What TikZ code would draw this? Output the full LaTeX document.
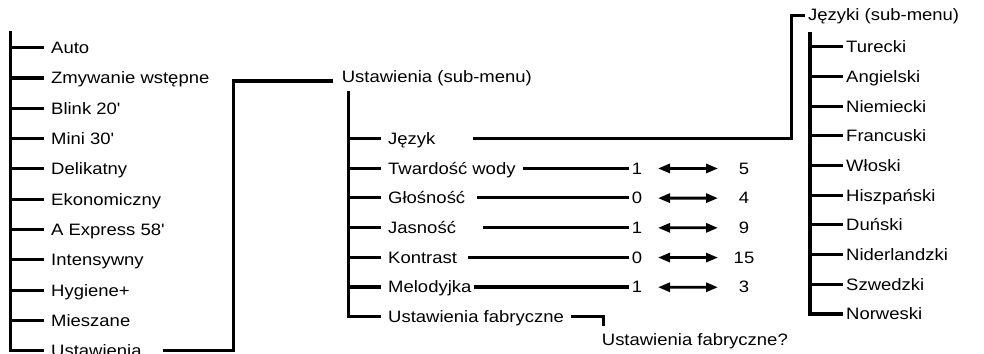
\documentclass[tikz,border=0pt]{standalone}
\usepackage{fontspec}
\setmainfont{Liberation Sans}[FakeStretch=1.12]
\usetikzlibrary{arrows.meta, positioning, calc}
\tikzset{
	entry/.style     ={anchor=base west, inner sep=0pt},
	num/.style       ={anchor=base, inner sep=0pt},
	branch/.style    ={line width=3.1pt},
	rangearrow/.style={line width=2.8pt, {Triangle[length=12pt,width=9pt]}-{Triangle[length=12pt,width=9pt]}, shorten <=21pt, shorten >=26pt},
}
\begin{document}
\begin{tikzpicture}[x=1pt, y=-1pt, font=\fontsize{16.5}{19}\selectfont]
	\useasboundingbox (0,0) rectangle (984,353);
	% programmes
	\coordinate (pTop) at (10.5,31);
	\foreach \txt [count=\i] in {Auto, Zmywanie wstępne, Blink 20\textquotesingle, Mini 30\textquotesingle, Delikatny, Ekonomiczny, A Express 58\textquotesingle, Intensywny, Hygiene+, Mieszane, Ustawienia}{
		\coordinate (p\i) at (10.5, {47.7+(\i-1)*30.3});
		\node[entry] (prog\i) at (51, {53.6+(\i-1)*30.3}) {\txt};
		\draw[branch, shorten >=7pt] (p\i) -- (p\i -| prog\i.west);
	}
	\draw[branch, shorten >=7pt] (pTop) -- (p11) -- (p11 -| prog11.west);
	% settings sub-menu
	\node[entry] (sub) at (341.7, 82.5) {Ustawienia (sub-menu)};
	\coordinate (subknee) at (233.5, 81);
	\draw[branch, shorten >=9pt] ($(prog11.east |- p11)+(21,0)$) -| (subknee) -- (subknee -| sub.west);
	\coordinate (sTop) at (348.3, 90.7);
	\coordinate (s1) at (348.3, 138.5);
	\node[entry] (set1) at (388, 144.4) {Język};
	\draw[branch, shorten >=7pt] (s1) -- (s1 -| set1.west);
	\foreach \txt/\gap/\lo/\hi [count=\i from 2] in {Twardość wody/7pt/1/5, Głośność/12pt/0/4, Jasność/27pt/1/9, Kontrast/11pt/0/15, Melodyjka/2pt/1/3}{
		\coordinate (s\i) at (348.3, {138.5+(\i-1)*29.7});
		\node[entry] (set\i) at (388, {144.4+(\i-1)*29.7}) {\txt};
		\node[num] (lo\i) at (637, {144.4+(\i-1)*29.7}) {\lo};
		\node[num] (hi\i) at (744, {144.4+(\i-1)*29.7}) {\hi};
		\draw[branch, shorten >=7pt] (s\i) -- (s\i -| set\i.west);
		\draw[branch, shorten <=\gap, shorten >=2.5pt] (s\i -| set\i.east) -- (s\i -| lo\i.west);
		\draw[rangearrow] (lo\i.center) -- (hi\i.center);
	}
	\coordinate (s7) at (348.3, {138.5+6*29.7});
	\node[entry] (set7) at (388, {144.4+6*29.7}) {Ustawienia fabryczne};
	\draw[branch, shorten >=7pt] (sTop) -- (s7) -- (s7 -| set7.west);
	\node[entry] (reset) at (601.7, 345) {Ustawienia fabryczne?};
	\draw[branch, shorten >=6.6pt] ($(set7.east |- s7)+(7,0)$) -| ([xshift=1.5pt]reset.north west);
	% languages sub-menu
	\node[entry] (lang) at (808, 21) {Języki (sub-menu)};
	\coordinate (lknee) at (791.7, 15.7);
	\draw[branch, shorten >=3pt] ($(set1.east |- s1)+(37,0)$) -| (lknee) -- (lknee -| lang.west);
	\coordinate (lTop) at (810, 31.7);
	\foreach \txt [count=\i] in {Turecki, Angielski, Niemiecki, Francuski, Włoski, Hiszpański, Duński, Niderlandzki, Szwedzki, Norweski}{
		\coordinate (l\i) at (810, {46.7+(\i-1)*29.7});
		\node[entry] (lng\i) at (846, {52.6+(\i-1)*29.7}) {\txt};
		\draw[branch, shorten >=3pt] (l\i) -- (l\i -| lng\i.west);
	}
	\draw[branch, shorten >=3pt] (lTop) -- (l10) -- (l10 -| lng10.west);
\end{tikzpicture}
\end{document}
